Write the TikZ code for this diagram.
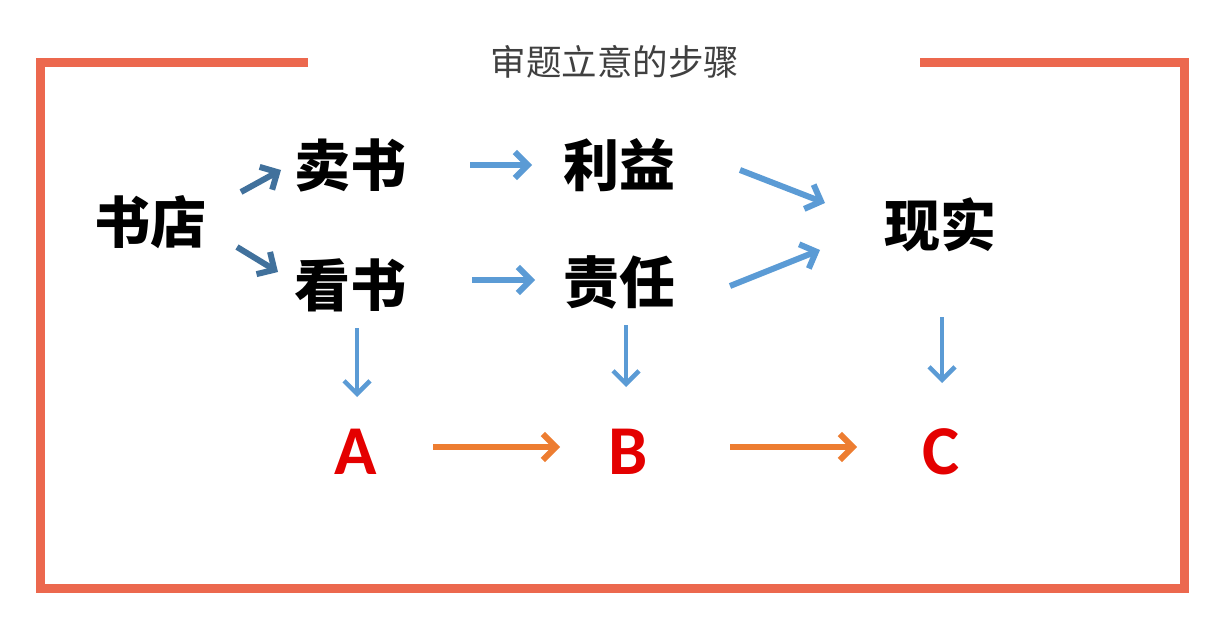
\documentclass[tikz,border=0pt]{standalone}
\usepackage{fontspec}
\usepackage{tikz}
\usetikzlibrary{arrows.meta}
\newfontfamily\cjk{Noto Sans CJK SC}
\newfontfamily\calib{Carlito}
\definecolor{frameRed}{RGB}{236,104,78}
\definecolor{lightBlue}{RGB}{91,155,213}
\definecolor{darkBlue}{RGB}{65,113,156}
\definecolor{arrOrange}{RGB}{237,125,49}
\definecolor{letterRed}{RGB}{228,0,0}
\definecolor{titleGray}{RGB}{64,64,64}

\begin{document}
\begin{tikzpicture}[x=1pt,y=-1pt,
  word/.style={inner sep=0pt,font=\cjk\bfseries\fontsize{56}{60}\selectfont},
  letter/.style={inner sep=0pt,text=letterRed,font=\calib\bfseries\fontsize{70}{74}\selectfont},
  barb/.style={line width=6pt,-{Straight Barb[length=13pt,width=26pt]}},
  darkarr/.style={barb,darkBlue},
  bluearr/.style={barb,lightBlue},
  downarr/.style={barb,lightBlue,line width=4.5pt},
  orangearr/.style={barb,arrOrange}]
  \useasboundingbox (0,0) rectangle (1217,620);
  % frame, open at the top for the title
  \draw[frameRed,line width=9pt] (308,63) -- (40,63) -- (40,588) -- (1184,588) -- (1184,63) -- (920,63);
  \node[inner sep=0pt,text=titleGray,font=\cjk\fontsize{35.5}{38}\selectfont] (title) at (615,62) {审题立意的步骤};
  % words
  \node[word] (shudian) at (150,222) {书店};
  \node[word] (maishu) at (350,165) {卖书};
  \node[word] (kanshu) at (350,285) {看书};
  \node[word] (liyi) at (619,165) {利益};
  \node[word] (zeren) at (619,282) {责任};
  \node[word] (xianshi) at (940,225) {现实};
  % letters
  \node[letter] (A) at (356,452) {A};
  \node[letter] (B) at (628,452) {B};
  \node[letter] (C) at (941,452) {C};
  % arrows
  \draw[darkarr] ([shift={(91,-30)}]shudian.center) -- ([shift={(-69,5)}]maishu.center);
  \draw[darkarr] ([shift={(87,25)}]shudian.center) -- ([shift={(-72,-13)}]kanshu.center);
  \draw[bluearr] ([shift={(120,0)}]maishu.center) -- ([shift={(-87,0)}]liyi.center);
  \draw[bluearr] ([shift={(122,-5)}]kanshu.center) -- ([shift={(-84,-2)}]zeren.center);
  \draw[bluearr] ([shift={(121,5)}]liyi.center) -- ([shift={(-115,-22)}]xianshi.center);
  \draw[bluearr] ([shift={(111,4)}]zeren.center) -- ([shift={(-120,25)}]xianshi.center);
  \draw[downarr] ([shift={(7,43)}]kanshu.center) -- ([shift={(1,-55)}]A.center);
  \draw[downarr] ([shift={(7,43)}]zeren.center) -- ([shift={(-2,-65)}]B.center);
  \draw[downarr] ([shift={(2,92)}]xianshi.center) -- ([shift={(1,-69)}]C.center);
  \draw[orangearr] ([shift={(77,-5)}]A.center) -- ([shift={(-68,-5)}]B.center);
  \draw[orangearr] ([shift={(102,-5)}]B.center) -- ([shift={(-84,-5)}]C.center);
\end{tikzpicture}
\end{document}
